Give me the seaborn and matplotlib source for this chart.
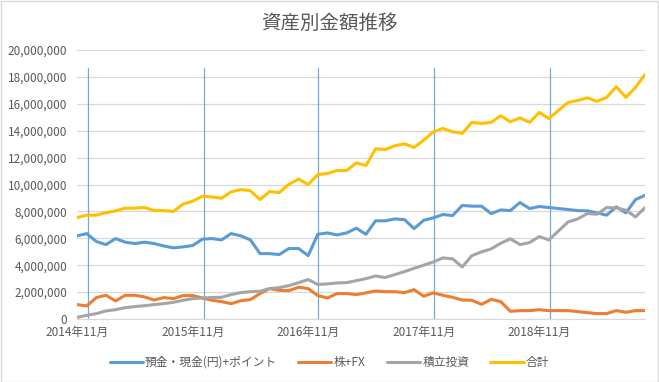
import matplotlib
matplotlib.use("Agg")
import matplotlib.pyplot as plt
import matplotlib.ticker as mticker
import numpy as np
import pandas as pd
import seaborn as sns

# monthly values in millions of yen, 2014-11 .. 2019-10
deposit = [6.18, 6.35, 5.76, 5.53, 5.98, 5.71, 5.61, 5.71, 5.61, 5.43, 5.29, 5.36,
           5.46, 5.93, 5.98, 5.88, 6.35, 6.18, 5.88, 4.86, 4.86, 4.79, 5.24, 5.24,
           4.71, 6.30, 6.40, 6.25, 6.40, 6.75, 6.30, 7.30, 7.30, 7.44, 7.39, 6.72,
           7.34, 7.52, 7.77, 7.69, 8.44, 8.39, 8.39, 7.84, 8.11, 8.06, 8.66, 8.21,
           8.36, 8.29, 8.21, 8.14, 8.06, 8.04, 7.89, 7.72, 8.34, 7.89, 8.88, 9.20]
stock_fx = [1.07, 0.97, 1.59, 1.76, 1.34, 1.76, 1.76, 1.64, 1.41, 1.59, 1.51, 1.74,
            1.74, 1.56, 1.39, 1.29, 1.14, 1.36, 1.44, 1.89, 2.26, 2.13, 2.11, 2.36,
            2.26, 1.74, 1.56, 1.89, 1.89, 1.81, 1.94, 2.08, 2.03, 2.03, 1.96, 2.18,
            1.69, 1.94, 1.76, 1.61, 1.41, 1.39, 1.09, 1.46, 1.29, 0.57, 0.62, 0.62,
            0.69, 0.62, 0.62, 0.62, 0.55, 0.47, 0.40, 0.40, 0.62, 0.50, 0.62, 0.62]
tsumitate = [0.12, 0.27, 0.40, 0.60, 0.69, 0.84, 0.92, 0.99, 1.07, 1.14, 1.24, 1.39,
             1.51, 1.56, 1.60, 1.61, 1.81, 1.96, 2.03, 2.06, 2.26, 2.33, 2.48, 2.70,
             2.93, 2.56, 2.61, 2.68, 2.70, 2.85, 3.00, 3.20, 3.08, 3.30, 3.52, 3.77,
             4.00, 4.24, 4.54, 4.47, 3.87, 4.71, 4.99, 5.21, 5.63, 5.96, 5.53, 5.68,
             6.13, 5.88, 6.55, 7.22, 7.44, 7.84, 7.79, 8.29, 8.26, 8.09, 7.59, 8.29]
total = [7.54, 7.72, 7.72, 7.90, 8.04, 8.24, 8.24, 8.29, 8.06, 8.06, 7.99, 8.54,
         8.76, 9.13, 9.07, 8.98, 9.45, 9.63, 9.53, 8.88, 9.48, 9.40, 10.02, 10.40,
         10.00, 10.74, 10.82, 11.04, 11.04, 11.61, 11.41, 12.66, 12.60, 12.88, 13.03, 12.75,
         13.30, 13.92, 14.17, 13.92, 13.80, 14.62, 14.54, 14.62, 15.11, 14.67, 14.96, 14.62,
         15.36, 14.91, 15.51, 16.10, 16.25, 16.45, 16.18, 16.48, 17.27, 16.48, 17.22, 18.19]

series_names = ["預金・現金(円)+ポイント", "株+FX", "積立投資", "合計"]
colors = ["#5B9BD5", "#ED7D31", "#A5A5A5", "#FFC000"]
tick_labels = ["2014年11月", "2015年11月", "2016年11月", "2017年11月", "2018年11月"]
marker_months = [1.15, 13.15, 25.0, 37.1, 49.1]  # hand-drawn vertical markers
marker_top = 18.7e6

months = np.arange(len(total))
df = pd.DataFrame({
    series_names[0]: np.array(deposit) * 1e6,
    series_names[1]: np.array(stock_fx) * 1e6,
    series_names[2]: np.array(tsumitate) * 1e6,
    series_names[3]: np.array(total) * 1e6,
}, index=months)
long_df = df.reset_index(names="month").melt(id_vars="month", var_name="series", value_name="amount")

sns.set_style("white")
plt.rcParams["font.family"] = ["Noto Sans CJK JP", "DejaVu Sans"]

fig = plt.figure(figsize=(6.59, 3.82), dpi=100)
ax = fig.add_axes([0.117, 0.165, 0.862, 0.704])

sns.lineplot(data=long_df, x="month", y="amount", hue="series", hue_order=series_names,
             palette=colors, linewidth=2.2, ax=ax, legend=False)

for m in marker_months:
    ax.plot([m, m], [0, marker_top], color="#5B9BD5", linewidth=0.9, alpha=0.85, zorder=1)

ax.set_xlim(0, len(total) - 1)
ax.set_ylim(0, 20e6)
ax.yaxis.set_major_locator(mticker.MultipleLocator(2e6))
ax.yaxis.set_major_formatter(mticker.FuncFormatter(lambda v, p: f"{int(v):,}"))
ax.set_xticks(np.arange(0, len(total), 12))
ax.set_xticklabels(tick_labels)
ax.grid(axis="y", color="#D9D9D9", linewidth=0.9)
ax.set_axisbelow(True)
for side in ["top", "right", "left"]:
    ax.spines[side].set_visible(False)
ax.spines["bottom"].set_color("#D9D9D9")
ax.tick_params(axis="y", labelsize=8.5, colors="#595959", length=0, pad=7)
ax.tick_params(axis="x", labelsize=8.5, colors="#595959", length=3, pad=2, color="#D9D9D9")
ax.set_xlabel("")
ax.set_ylabel("")

fig.suptitle("資産別金額推移", y=0.965, fontsize=14, color="#595959")

handles = [plt.Line2D([], [], color=c, linewidth=2.2) for c in colors]
fig.legend(handles, series_names, loc="center", bbox_to_anchor=(0.5, 0.052), ncol=4,
           frameon=False, fontsize=8.5, handlelength=2.8, columnspacing=1.8,
           handletextpad=0.2, labelcolor="#595959")

fig.patches.append(plt.Rectangle((0.001, 0.001), 0.997, 0.997, transform=fig.transFigure,
                                 fill=False, edgecolor="#D9D9D9", linewidth=1))

fig.savefig("out.png", dpi=100)
